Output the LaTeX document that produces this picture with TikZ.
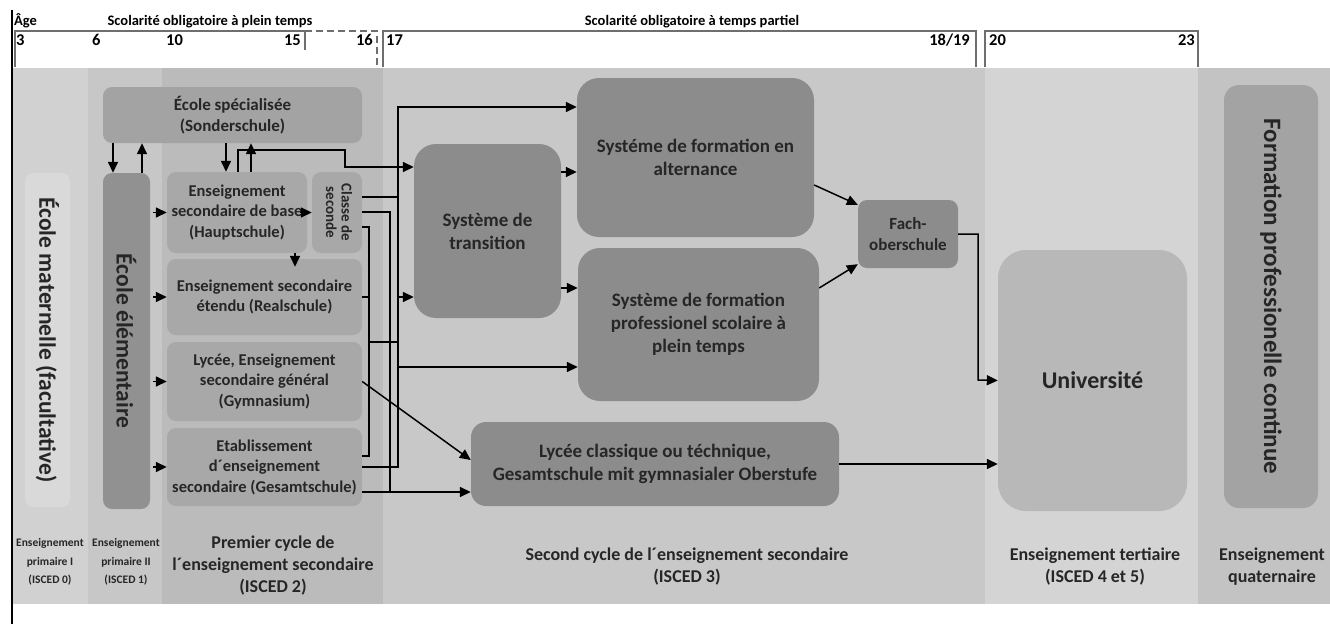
\documentclass[tikz,border=0pt]{standalone}
\usepackage{fontspec}
\usepackage{graphicx}
\setmainfont{Carlito}
\usetikzlibrary{arrows.meta}

\definecolor{bandA}{gray}{0.82}
\definecolor{bandB}{gray}{0.78}
\definecolor{bandC}{gray}{0.735}
\definecolor{bandD}{gray}{0.785}
\definecolor{bandE}{gray}{0.83}
\definecolor{bandF}{gray}{0.765}
\definecolor{matfill}{gray}{0.85}
\definecolor{elemfill}{gray}{0.57}
\definecolor{secfill}{gray}{0.66}
\definecolor{specfill}{gray}{0.64}
\definecolor{darkfill}{gray}{0.55}
\definecolor{unifill}{gray}{0.72}
\definecolor{contfill}{gray}{0.64}
\definecolor{axisgray}{gray}{0.43}

\tikzset{
  box/.style={fill=#1, rounded corners=9pt, inner sep=0pt, align=center,
    text=black!85, font=\bfseries\fontsize{16.5}{20.5}\selectfont},
  box/.default=secfill,
  bigbox/.style={box=darkfill, rounded corners=22pt,
    font=\bfseries\fontsize{19}{23}\selectfont},
  vertbox/.style={box=#1, font=\bfseries\fontsize{23.5}{28}\selectfont},
  arr/.style={-{Triangle[length=11pt,width=10pt]}, line width=1.5pt},
  conn/.style={line width=1.5pt},
  axis/.style={draw=axisgray, line width=1.3pt},
  agenum/.style={anchor=base west, inner sep=0pt, font=\bfseries\fontsize{16.5}{18}\selectfont},
  toplab/.style={anchor=base, inner sep=0pt, font=\bfseries\fontsize{14.5}{16}\selectfont},
  lab/.style={align=center, inner sep=0pt, text=black!85, font=\bfseries\fontsize{18}{22}\selectfont},
  smalllab/.style={lab, font=\bfseries\fontsize{11.5}{18.5}\selectfont}
}

\begin{document}
\begin{tikzpicture}[x=1pt,y=-1pt]
\useasboundingbox (0,0) rectangle (1330,624);

% age bands
\fill[bandA] (12,68) rectangle (88,604);
\fill[bandB] (88,68) rectangle (162,604);
\fill[bandC] (162,68) rectangle (383,604);
\fill[bandD] (383,68) rectangle (985,604);
\fill[bandE] (985,68) rectangle (1198,604);
\fill[bandF] (1198,68) rectangle (1330,604);

% age scale
\draw[line width=2pt] (12,10) -- (12,624);
\node[toplab, anchor=base west] (age) at (14,25) {Âge};
\node[toplab] (full) at (210,25) {Scolarité obligatoire à plein temps};
\node[toplab] (part) at (692,25) {Scolarité obligatoire à temps partiel};
\draw[axis] (15,67) |- (305,31) -- (305,50);
\draw[axis, dash pattern=on 7pt off 4pt] (305,31) -| (377,67);
\draw[axis] (383,67) |- (976,31) -- (976,67);
\draw[axis] (985,67) |- (1198,31) -- (1198,67);
\node[agenum] (a3) at (16,45) {3};
\node[agenum] (a6) at (92,45) {6};
\node[agenum] (a10) at (166,45) {10};
\node[agenum, anchor=base east] (a15) at (301,45) {15};
\node[agenum, anchor=base east] (a16) at (373,45) {16};
\node[agenum] (a17) at (386,45) {17};
\node[agenum, anchor=base east] (a18) at (970,45) {18/19};
\node[agenum] (a20) at (989,45) {20};
\node[agenum, anchor=base east] (a23) at (1195,45) {23};

% schools
\node[vertbox=matfill, rounded corners=8pt, minimum width=45pt, minimum height=334pt] (mat) at (47.5,340)
  {\rotatebox{-90}{École maternelle (facultative)}};
\node[vertbox=elemfill, minimum width=47pt, minimum height=336pt] (elem) at (126.5,341)
  {\rotatebox{-90}{École élémentaire}};
\node[box=specfill, minimum width=259pt, minimum height=56pt, font=\bfseries\fontsize{17}{21}\selectfont] (spec) at (232.5,115) {École spécialisée\\(Sonderschule)};
\node[box, minimum width=140pt, minimum height=81pt] (haupt) at (237,212.5) {Enseignement\\secondaire de base\\(Hauptschule)};
\node[box, minimum width=50pt, minimum height=81pt, font=\bfseries\fontsize{15}{15.5}\selectfont] (classe) at (337,212.5)
  {\rotatebox{-90}{\begin{tabular}{@{}c@{}}Classe de\\seconde\end{tabular}}};
\node[box, minimum width=195pt, minimum height=76pt] (real) at (264.5,297) {Enseignement secondaire\\étendu (Realschule)};
\node[box, minimum width=195pt, minimum height=79pt] (gym) at (264.5,381.5) {Lycée, Enseignement\\secondaire général\\(Gymnasium)};
\node[box, minimum width=195pt, minimum height=78pt] (gesamt) at (264.5,467) {Etablissement\\d´enseignement\\secondaire (Gesamtschule)};
\node[bigbox, minimum width=147pt, minimum height=174pt] (trans) at (487.5,231) {Système de\\transition};
\node[bigbox, minimum width=237pt, minimum height=159pt] (alt) at (695.5,157.5) {Systéme de formation en\\alternance};
\node[bigbox, minimum width=241pt, minimum height=153pt] (prof) at (698.5,324.5) {Système de formation\\professionel scolaire à\\plein temps};
\node[bigbox, rounded corners=15pt, minimum width=368pt, minimum height=84pt] (lyc) at (655,464)
  {Lycée classique ou téchnique,\\Gesamtschule mit gymnasialer Oberstufe};
\node[box=darkfill, minimum width=100pt, minimum height=68pt, font=\bfseries\fontsize{17}{21}\selectfont] (fach) at (908,234) {Fach-\\oberschule};
\node[box=unifill, rounded corners=28pt, minimum width=189pt, minimum height=261pt, font=\bfseries\fontsize{24}{28}\selectfont] (uni) at (1092.5,380.5) {Université};
\node[vertbox=contfill, rounded corners=15pt, minimum width=94pt, minimum height=423pt, font=\bfseries\fontsize{25}{28}\selectfont] (cont) at (1271,296.5)
  {\rotatebox{-90}{Formation professionelle continue}};

% ISCED levels
\node[smalllab] (isc0) at (50,562) {Enseignement\\primaire I\\(ISCED 0)};
\node[smalllab] (isc1) at (126,562) {Enseignement\\primaire II\\(ISCED 1)};
\node[lab] (isc2) at (273,566) {Premier cycle de\\l´enseignement secondaire\\(ISCED 2)};
\node[lab] (isc3) at (687,567) {Second cycle de l´enseignement secondaire\\(ISCED 3)};
\node[lab] (isc45) at (1095,567) {Enseignement tertiaire\\(ISCED 4 et 5)};
\node[lab] (quat) at (1272,567) {Enseignement\\quaternaire};

% primary level
\draw[arr] (spec.south -| 113,0) -- (elem.north -| 113,0);
\draw[arr] (elem.north -| 142,0) -- (spec.south -| 142,0);
\draw[arr] (spec.south -| 226,0) -- (haupt.north -| 226,0);
\draw[arr] (haupt.north -| 251,0) -- (spec.south -| 251,0);
\draw[arr] (haupt.north -| 238,0) |- (345,150) |- (trans.west |- 0,167);
\foreach \n in {haupt,real,gym,gesamt}
  \draw[arr] ([xshift=3pt]elem.east |- \n.west) -- (\n.west);
\draw[arr] ([xshift=-7pt]haupt.east) -- (classe.west |- haupt.east);
\draw[arr] (haupt.south -| 295,0) -- ([yshift=-8pt]real.north -| 295,0);

% lower secondary to upper secondary
\coordinate (trunk) at (398,0);
\draw[arr] (gesamt.east |- 0,467) -| (trunk |- 0,107) -- (alt.west |- 0,107);
\draw[conn] (classe.east |- 0,197) -- (trunk |- 0,197);
\draw[arr] (trunk |- 0,297) -- (trans.west |- 0,297);
\draw[arr] (trunk |- 0,367) -- (prof.west |- 0,367);
\draw[conn] (classe.east |- 0,212) -| (390,492);
\draw[arr] (gesamt.east |- 0,492) -- (lyc.west |- 0,492);
\draw[conn] (classe.east |- 0,227) -| (369,456) -- (gesamt.east |- 0,456);
\draw[conn] (real.east) -- (369,297);
\draw[conn] (369,342) -- (trunk |- 0,342);
\draw[arr] (gym.east) -- (lyc.west |- 0,460);

% upper secondary
\draw[arr] (trans.east |- 0,172) -- (alt.west |- 0,172);
\draw[arr] (trans.east |- 0,288) -- (prof.west |- 0,288);
\draw[arr] (alt.east |- 0,185) -- ([yshift=-5pt]fach.north west);
\draw[arr] (prof.east |- 0,288) -- ([yshift=4pt]fach.south west);
\draw[arr] (fach.east) -| (978,380) -- (uni.west);
\draw[arr] (lyc.east) -- (uni.west |- lyc.east);
\end{tikzpicture}
\end{document}
